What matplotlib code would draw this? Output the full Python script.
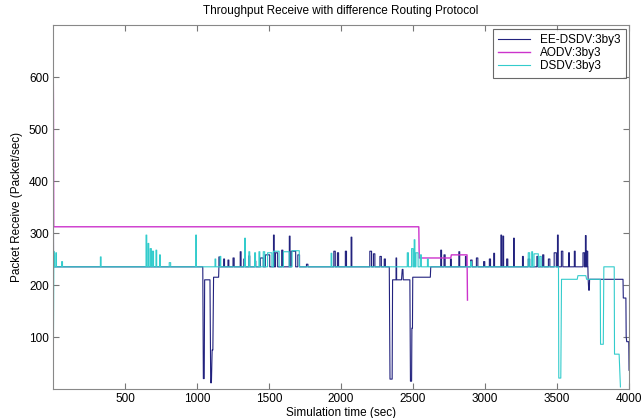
import matplotlib.pyplot as plt

# ---- data (time in sec, packets/sec) ----
# EE-DSDV:3by3 -- step knots (base level changes)
ee_t = [0, 2, 4, 1040, 1044, 1050, 1053, 1090, 1095, 1100, 1105, 1110, 1115, 1150, 1152,
        2335, 2340, 2355, 2358, 2420, 2425, 2430, 2432, 2478, 2482, 2490, 2492, 2496, 2498,
        2620, 2623, 3714, 3716, 3720, 3724, 3726, 3958, 3960, 3978, 3980, 3984, 3998, 4000]
ee_v = [40, 450, 235, 235, 20, 20, 210, 210, 12, 12, 75, 75, 215, 215, 235,
        235, 19, 19, 210, 210, 230, 230, 210, 210, 15, 15, 117, 117, 215,
        215, 235, 235, 211, 190, 190, 211, 211, 175, 175, 100, 91, 91, 36]
# EE-DSDV bursts on the 235 level: start time, peak, duration
ee_spike_t = [1152, 1185, 1215, 1250, 1300, 1325, 1360, 1400, 1440, 1475, 1531, 1545,
              1588, 1641, 1655, 1700, 1760, 1950, 1975, 2030, 2070, 2200, 2225, 2270,
              2300, 2692, 2715, 2760, 2818, 2864, 2900, 2940, 2990, 3030, 3060, 3110,
              3124, 3150, 3198, 3260, 3300, 3360, 3400, 3440, 3480, 3503, 3530, 3580,
              3620, 3680, 3697, 3705]
ee_spike_v = [254, 250, 248, 252, 264, 250, 256, 246, 252, 258, 296, 262,
              267, 294, 265, 258, 240, 265, 262, 265, 292, 265, 260, 255,
              250, 267, 258, 250, 264, 255, 248, 252, 245, 250, 261, 296,
              294, 250, 290, 255, 250, 255, 258, 250, 262, 296, 265, 262,
              265, 262, 295, 265]
ee_spike_w = [8, 6, 6, 8, 6, 8, 6, 8, 20, 30, 5, 15,
              8, 5, 30, 12, 10, 10, 8, 8, 5, 12, 10, 10,
              8, 6, 8, 6, 6, 6, 10, 10, 8, 8, 6, 5,
              5, 8, 5, 6, 10, 8, 8, 10, 15, 5, 10, 6,
              6, 10, 5, 8]
# one burst on the 210 plateau
ee_extra_t = [2382]
ee_extra_v = [252]

# AODV:3by3
aodv_t = [0, 3, 5, 2540, 2543, 2762, 2766, 2875, 2878]
aodv_v = [700, 550, 312, 312, 252, 252, 258, 258, 171]

# DSDV:3by3
dsdv_t = [0, 3, 6, 10, 3510, 3512, 3526, 3531, 3640, 3645, 3700, 3705, 3800, 3802,
          3821, 3825, 3897, 3899, 3931, 3940]
dsdv_v = [40, 85, 265, 235, 235, 21, 21, 211, 211, 218, 218, 211, 211, 86,
          86, 235, 235, 67, 67, 4]
dsdv_spike_t = [20, 60, 329, 646, 660, 675, 690, 715, 740, 807, 991, 1125, 1160,
                1331, 1360, 1400, 1430, 1460, 1490, 1530, 1600, 1660, 1931, 2460,
                2490, 2508, 2520, 2550, 2600, 2900, 3300, 3324, 3340, 3380]
dsdv_spike_v = [262, 245, 254, 296, 280, 270, 265, 267, 258, 243, 296, 250, 255,
                290, 264, 262, 264, 264, 262, 265, 264, 266, 261, 262,
                270, 287, 262, 258, 250, 245, 262, 264, 260, 255]
dsdv_spike_w = [4, 6, 5, 5, 5, 8, 8, 5, 5, 10, 5, 5, 5,
                5, 6, 6, 6, 10, 30, 40, 40, 50, 5, 8,
                10, 5, 15, 8, 6, 6, 10, 6, 30, 10]


def with_bursts(t, v, st, sv, sw, base=235):
    pts = list(zip(t, v))
    for a, p, w in zip(st, sv, sw):
        pts += [(a, base), (a, p), (a + w, p), (a + w, base)]
    pts.sort(key=lambda q: q[0])
    return [q[0] for q in pts], [q[1] for q in pts]


ee_x, ee_y = with_bursts(ee_t, ee_v, ee_spike_t, ee_spike_v, ee_spike_w)
ee_x2, ee_y2 = with_bursts([], [], ee_extra_t, ee_extra_v, [4], base=210)
for x, y in zip(ee_x2, ee_y2):
    i = next(k for k, xx in enumerate(ee_x) if xx > x)
    ee_x.insert(i, x)
    ee_y.insert(i, y)
ds_x, ds_y = with_bursts(dsdv_t, dsdv_v, dsdv_spike_t, dsdv_spike_v, dsdv_spike_w)

plt.rcParams['font.family'] = ['Liberation Sans', 'DejaVu Sans']
fig = plt.figure(figsize=(6.44, 4.18), dpi=100)
ax = fig.add_axes([0.0823, 0.0694, 0.8945, 0.8706])

ax.plot(ee_x, ee_y, color='#22227e', lw=0.8, label='EE-DSDV:3by3')
ax.plot(aodv_t, aodv_v, color='#cc33cc', lw=1.0, label='AODV:3by3')
ax.plot(ds_x, ds_y, color='#33cccc', lw=0.8, label='DSDV:3by3')

ax.set_xlim(0, 4000)
ax.set_ylim(0, 700)
ax.set_xticks([500, 1000, 1500, 2000, 2500, 3000, 3500, 4000])
ax.set_yticks([100, 200, 300, 400, 500, 600])
ax.tick_params(direction='in', top=True, right=True, labelsize=8.5, length=4,
               color='#777777', pad=3)
for s in ax.spines.values():
    s.set_color('#888888')
    s.set_linewidth(0.8)

ax.set_title('Throughput Receive with difference Routing Protocol', fontsize=8.5, pad=8)
ax.set_xlabel('Simulation time (sec)', fontsize=8.5, labelpad=1)
ax.set_ylabel('Packet Receive (Packet/sec)', fontsize=8.5, labelpad=4)

leg = ax.legend(loc='upper right', fontsize=8.5, frameon=True, fancybox=False,
                borderpad=0.45, labelspacing=0.1, handlelength=2.7, handletextpad=0.8,
                borderaxespad=0.3)
leg.get_frame().set_edgecolor('#444444')
leg.get_frame().set_linewidth(0.8)

fig.savefig('out.png', dpi=100)
